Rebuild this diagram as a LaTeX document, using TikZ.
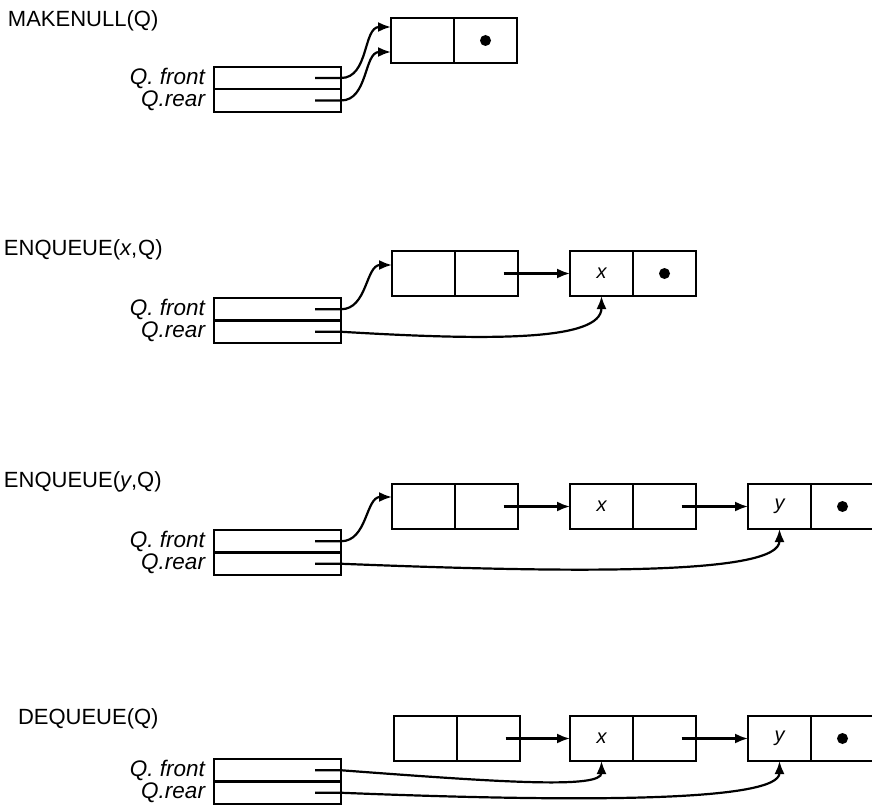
\documentclass[tikz,border=0pt]{standalone}
\usepackage{fontspec}
\setmainfont{Liberation Sans}
\usetikzlibrary{arrows.meta,calc}
\begin{document}
\begin{tikzpicture}[x=1pt,y=1pt,
  every node/.style={inner sep=0pt, outer sep=0pt},
  cell/.style={draw, line width=2.2pt, minimum width=63pt, minimum height=45pt},
  reg/.style={draw, line width=2.2pt, minimum width=127pt, minimum height=22.5pt},
  lbl/.style={font=\fontsize{22.5}{25}\selectfont\itshape, anchor=east},
  ttl/.style={font=\fontsize{22}{25}\selectfont, anchor=west},
  val/.style={font=\fontsize{20}{24}\selectfont\itshape},
  ptr/.style={line width=2.2pt, -{Latex[length=13pt,width=10pt]}},
  dotmark/.style={circle, fill, minimum size=11pt},
]
\useasboundingbox (0,0) rectangle (872,-810);

% ---------- Panel 1: MAKENULL ----------
\node[ttl] (t1) at (8,-21) {MAKENULL(Q)};
\node[cell] (n1a) at (422.5,-40.5) {};
\node[cell] (n1b) at (485.5,-40.5) {};
\node[dotmark] (d1) at (n1b.center) {};
\node[reg] (f1) at (277.5,-78) {};
\node[reg] (r1) at (277.5,-100.5) {};
\node[lbl] (lf1) at (205,-78) {Q. front};
\node[lbl] (lr1) at (205,-100.5) {Q.rear};
\draw[ptr] ([xshift=-26pt]f1.east) -- (f1.east) to[out=0,in=180] ([yshift=-9pt]n1a.north west);
\draw[ptr] ([xshift=-26pt]r1.east) -- (r1.east) to[out=0,in=180] ([yshift=-34pt]n1a.north west);

% ---------- Panel 2: ENQUEUE(x,Q) ----------
\node[ttl] (t2) at (4,-250) {ENQUEUE(\textit{x},\kern1pt Q)};
\node[cell] (n2a) at (423.5,-273.5) {};
\node[cell] (n2b) at (486.5,-273.5) {};
\node[cell] (n2c) at (601.5,-273.5) {};
\node[cell] (n2d) at (664.5,-273.5) {};
\node[val] (v2c) at (n2c.center) {x};
\node[dotmark] (d2) at (n2d.center) {};
\node[reg] (f2) at (277.5,-309.25) {};
\node[reg] (r2) at (277.5,-331.75) {};
\node[lbl] (lf2) at (205,-309.25) {Q. front};
\node[lbl] (lr2) at (205,-331.75) {Q.rear};
\draw[ptr] ([xshift=-26pt]f2.east) -- (f2.east) to[out=0,in=180] ([yshift=-14pt]n2a.north west);
\draw[ptr] ([xshift=17pt]n2b.center) -- (n2c.west);
\draw[ptr] ([xshift=-26pt]r2.east) -- (r2.east) .. controls ($(r2.east)+(150,-9)$) and ($(n2c.south)+(0,-45)$) .. (n2c.south);

% ---------- Panel 3: ENQUEUE(y,Q) ----------
\node[ttl] (t3) at (4,-482) {ENQUEUE(\textit{y},Q)};
\node[cell] (n3a) at (423.5,-506.5) {};
\node[cell] (n3b) at (486.5,-506.5) {};
\node[cell] (n3c) at (601.5,-506.5) {};
\node[cell] (n3d) at (664.5,-506.5) {};
\node[cell] (n3e) at (779.5,-506.5) {};
\node[cell] (n3f) at (842.5,-506.5) {};
\node[val] (v3c) at (n3c.center) {x};
\node[val] (v3e) at (n3e.center) {y};
\node[dotmark] (d3) at (n3f.center) {};
\node[reg] (f3) at (277.5,-541.25) {};
\node[reg] (r3) at (277.5,-563.75) {};
\node[lbl] (lf3) at (205,-541.25) {Q. front};
\node[lbl] (lr3) at (205,-563.75) {Q.rear};
\draw[ptr] ([xshift=-26pt]f3.east) -- (f3.east) to[out=0,in=180] ([yshift=-13pt]n3a.north west);
\draw[ptr] ([xshift=17pt]n3b.center) -- (n3c.west);
\draw[ptr] ([xshift=17pt]n3d.center) -- (n3e.west);
\draw[ptr] ([xshift=-26pt]r3.east) -- (r3.east) .. controls ($(r3.east)+(250,-10)$) and ($(n3e.south)+(0,-45)$) .. (n3e.south);

% ---------- Panel 4: DEQUEUE(Q) ----------
\node[ttl] (t4) at (18,-719) {DEQUEUE(Q)};
\node[cell] (n4a) at (425.5,-738.5) {};
\node[cell] (n4b) at (488.5,-738.5) {};
\node[cell] (n4c) at (601.5,-738.5) {};
\node[cell] (n4d) at (664.5,-738.5) {};
\node[cell] (n4e) at (779.5,-738.5) {};
\node[cell] (n4f) at (842.5,-738.5) {};
\node[val] (v4c) at (n4c.center) {x};
\node[val] (v4e) at (n4e.center) {y};
\node[dotmark] (d4) at (n4f.center) {};
\node[reg] (f4) at (277.5,-770.25) {};
\node[reg] (r4) at (277.5,-792.75) {};
\node[lbl] (lf4) at (205,-770.25) {Q. front};
\node[lbl] (lr4) at (205,-792.75) {Q.rear};
\draw[ptr] ([xshift=17pt]n4b.center) -- (n4c.west);
\draw[ptr] ([xshift=17pt]n4d.center) -- (n4e.west);
\draw[ptr] ([xshift=-26pt]f4.east) -- (f4.east) .. controls ($(f4.east)+(160,-12)$) and ($(n4c.south)+(0,-28)$) .. (n4c.south);
\draw[ptr] ([xshift=-26pt]r4.east) -- (r4.east) .. controls ($(r4.east)+(250,-10)$) and ($(n4e.south)+(0,-40)$) .. (n4e.south);
\end{tikzpicture}
\end{document}
